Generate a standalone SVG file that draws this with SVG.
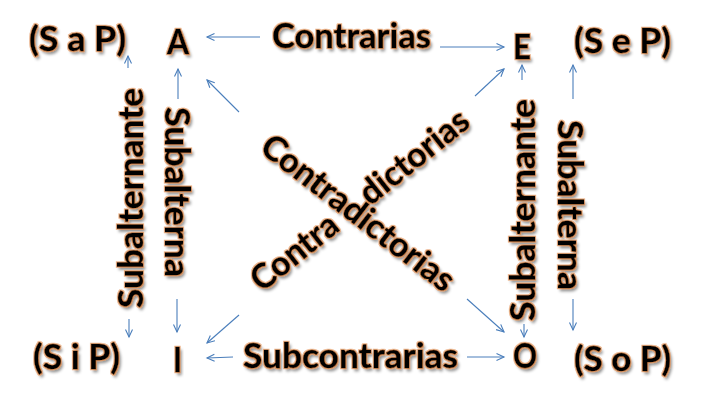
<svg xmlns="http://www.w3.org/2000/svg" width="709" height="412" viewBox="0 0 709 412">
<defs>
<style>
.t{font-family:Lato,"Open Sans","Liberation Sans",sans-serif;font-weight:700;font-size:34px;fill:#000;stroke:#000;stroke-width:0.3;}
.c line{stroke:#4A7EBB;stroke-width:1.1;fill:none;marker-end:url(#ah);}
</style>
<marker id="ah" markerUnits="userSpaceOnUse" markerWidth="10" markerHeight="10" refX="8" refY="4" orient="auto">
<path d="M0.5,0.5 L8,4 L0.5,7.5" fill="none" stroke="#4A7EBB" stroke-width="1.1"/>
</marker>
<filter id="g" x="-20%" y="-20%" width="140%" height="140%">
<feMorphology in="SourceAlpha" operator="dilate" radius="0.6" result="d"/>
<feGaussianBlur in="d" stdDeviation="0.5" result="b"/>
<feFlood flood-color="#D9742B" flood-opacity="0.55"/>
<feComposite in2="b" operator="in" result="gl"/>
<feGaussianBlur in="SourceAlpha" stdDeviation="1.5" result="s"/>
<feOffset in="s" dx="2" dy="2.5" result="so"/>
<feFlood flood-color="#000" flood-opacity="0.45"/>
<feComposite in2="so" operator="in" result="sh"/>
<feMerge><feMergeNode in="sh"/><feMergeNode in="gl"/><feMergeNode in="SourceGraphic"/></feMerge>
</filter>
</defs>
<rect width="709" height="412" fill="#fff"/>
<g id="connectors" class="c">
<line x1="260" y1="37" x2="207" y2="37"/>
<line x1="440" y1="47" x2="504" y2="47"/>
<line x1="233" y1="357" x2="207" y2="358"/>
<line x1="467" y1="357" x2="504" y2="357"/>
<line x1="239" y1="112" x2="207" y2="80"/>
<line x1="475" y1="96" x2="504" y2="69"/>
<line x1="239" y1="315" x2="207" y2="343"/>
<line x1="467" y1="299" x2="504" y2="332"/>
<line x1="128" y1="68" x2="128" y2="56"/>
<line x1="129" y1="319" x2="129" y2="337"/>
<line x1="178" y1="99" x2="178" y2="69"/>
<line x1="177" y1="299" x2="177" y2="332"/>
<line x1="522" y1="80" x2="522" y2="65"/>
<line x1="524" y1="324" x2="524" y2="337"/>
<line x1="573" y1="99" x2="573" y2="65"/>
<line x1="573" y1="299" x2="573" y2="330"/>
</g>
<g id="SaP" filter="url(#g)"><text class="t" x="29" y="51" textLength="97" lengthAdjust="spacingAndGlyphs">(S a P)</text></g>
<g id="A" filter="url(#g)"><text class="t" x="167" y="54" textLength="22" lengthAdjust="spacingAndGlyphs">A</text></g>
<g id="E" filter="url(#g)"><text class="t" x="513" y="59" textLength="18" lengthAdjust="spacingAndGlyphs">E</text></g>
<g id="SeP" filter="url(#g)"><text class="t" x="574" y="53" textLength="97" lengthAdjust="spacingAndGlyphs">(S e P)</text></g>
<g id="SiP" filter="url(#g)"><text class="t" x="33" y="369" textLength="87" lengthAdjust="spacingAndGlyphs">(S i P)</text></g>
<g id="I" filter="url(#g)"><text class="t" x="173" y="372" textLength="9" lengthAdjust="spacingAndGlyphs">I</text></g>
<g id="O" filter="url(#g)"><text class="t" x="513" y="368" textLength="24" lengthAdjust="spacingAndGlyphs">O</text></g>
<g id="SoP" filter="url(#g)"><text class="t" x="574" y="371" textLength="97" lengthAdjust="spacingAndGlyphs">(S o P)</text></g>
<g id="lbl-contrarias" filter="url(#g)"><text class="t" x="272" y="48" textLength="159" lengthAdjust="spacingAndGlyphs">Contrarias</text></g>
<g id="lbl-subcontrarias" filter="url(#g)"><text class="t" x="243" y="368" textLength="215" lengthAdjust="spacingAndGlyphs">Subcontrarias</text></g>
<g id="lbl-subalternante-left" filter="url(#g)"><text class="t" transform="translate(143,198) rotate(-90)" text-anchor="middle" textLength="220" lengthAdjust="spacingAndGlyphs">Subalternante</text></g>
<g id="lbl-subalterna-left" filter="url(#g)"><text class="t" transform="translate(165,192) rotate(90)" text-anchor="middle" textLength="170" lengthAdjust="spacingAndGlyphs">Subalterna</text></g>
<g id="lbl-subalternante-right" filter="url(#g)"><text class="t" transform="translate(535,210) rotate(-90)" text-anchor="middle" textLength="222" lengthAdjust="spacingAndGlyphs">Subalternante</text></g>
<g id="lbl-subalterna-right" filter="url(#g)"><text class="t" transform="translate(558,205) rotate(90)" text-anchor="middle" textLength="170" lengthAdjust="spacingAndGlyphs">Subalterna</text></g>
<g id="lbl-contradictorias-1" filter="url(#g)"><text class="t" transform="translate(351,222) rotate(37.5)" text-anchor="middle" textLength="234" lengthAdjust="spacingAndGlyphs">Contradictorias</text></g>
<g id="lbl-contradictorias-2" filter="url(#g)"><g transform="translate(368,208) rotate(-38.6)"><text class="t" x="-136" y="0" textLength="102" lengthAdjust="spacingAndGlyphs">Contra</text><text class="t" x="3" y="0" textLength="130" lengthAdjust="spacingAndGlyphs">dictorias</text></g></g>
</svg>
